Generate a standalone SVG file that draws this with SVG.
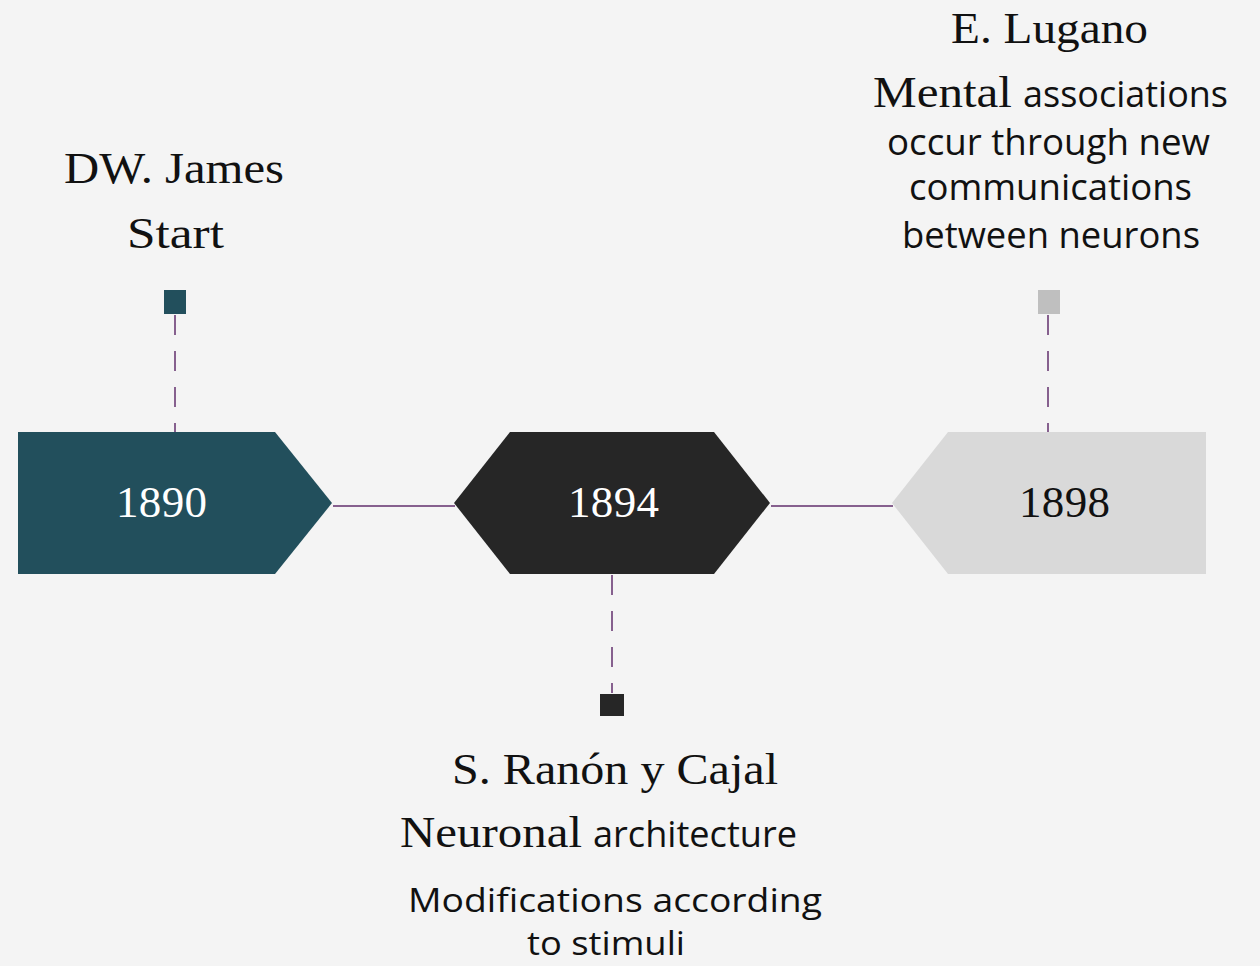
<svg xmlns="http://www.w3.org/2000/svg" width="1260" height="966" viewBox="0 0 1260 966">
<style>
.serif{font-family:"Liberation Serif","Times New Roman",serif;font-size:44px;fill:#111}
.sans{font-family:"Open Sans","Noto Sans",sans-serif;font-size:36px;fill:#111}
.sans-sm{font-family:"Open Sans","Noto Sans",sans-serif;font-size:33px;fill:#111}
.year{font-family:"Liberation Serif","Times New Roman",serif;font-size:45px}
.link{stroke:#86608E;stroke-width:2;fill:none}
.dash{stroke:#86608E;stroke-width:2;fill:none;stroke-dasharray:20 16}
</style>
<rect width="1260" height="966" fill="#F4F4F4"/>
<g id="connectors">
<line class="link" x1="333" y1="506" x2="455" y2="506"/>
<line class="link" x1="771" y1="506" x2="893" y2="506"/>
<line class="dash" x1="175" y1="315" x2="175" y2="432"/>
<line class="dash" x1="1048" y1="315" x2="1048" y2="432"/>
<line class="dash" x1="612" y1="575" x2="612" y2="693"/>
</g>
<g id="node-1890">
<polygon points="18,432 275,432 332,503 275,574 18,574" fill="#224F5C"/>
<text class="year" x="161.5" y="517" text-anchor="middle" fill="#FFFFFF" textLength="91">1890</text>
</g>
<g id="node-1894">
<polygon points="454,503 510,432 714,432 770,503 714,574 510,574" fill="#262626"/>
<text class="year" x="613.5" y="517" text-anchor="middle" fill="#FFFFFF" textLength="91">1894</text>
</g>
<g id="node-1898">
<polygon points="892,503 948,432 1206,432 1206,574 948,574" fill="#D9D9D9"/>
<text class="year" x="1064.5" y="517" text-anchor="middle" fill="#111" textLength="91">1898</text>
</g>
<g id="label-james">
<rect x="164" y="290" width="22" height="24" fill="#224F5C"/>
<text class="serif" x="174" y="183" text-anchor="middle" textLength="220" lengthAdjust="spacingAndGlyphs">DW. James</text>
<text class="serif" x="175.5" y="248" text-anchor="middle" textLength="97" lengthAdjust="spacingAndGlyphs">Start</text>
</g>
<g id="label-lugano">
<rect x="1038" y="290" width="22" height="24" fill="#BFBFBF"/>
<text class="serif" x="1049.5" y="43" text-anchor="middle" textLength="197" lengthAdjust="spacingAndGlyphs">E. Lugano</text>
<text class="serif" x="873" y="107" textLength="139" lengthAdjust="spacingAndGlyphs">Mental</text>
<text class="sans" x="1023" y="107" textLength="205" lengthAdjust="spacingAndGlyphs">associations</text>
<text class="sans" x="1048.5" y="155" text-anchor="middle" textLength="323" lengthAdjust="spacingAndGlyphs">occur through new</text>
<text class="sans" x="1050.5" y="200" text-anchor="middle" textLength="283" lengthAdjust="spacingAndGlyphs">communications</text>
<text class="sans" x="1051" y="248" text-anchor="middle" textLength="298" lengthAdjust="spacingAndGlyphs">between  neurons</text>
</g>
<g id="label-cajal">
<rect x="600" y="694" width="24" height="22" fill="#262626"/>
<text class="serif" x="615" y="784" text-anchor="middle" textLength="326" lengthAdjust="spacingAndGlyphs">S. Ranón y Cajal</text>
<text class="serif" x="400" y="847" textLength="182" lengthAdjust="spacingAndGlyphs">Neuronal</text>
<text class="sans" x="593" y="847" textLength="204" lengthAdjust="spacingAndGlyphs">architecture</text>
<text class="sans-sm" x="615" y="912" text-anchor="middle" textLength="414" lengthAdjust="spacingAndGlyphs">Modifications  according</text>
<text class="sans-sm" x="606" y="955" text-anchor="middle" textLength="158" lengthAdjust="spacingAndGlyphs">to stimuli</text>
</g>
</svg>
